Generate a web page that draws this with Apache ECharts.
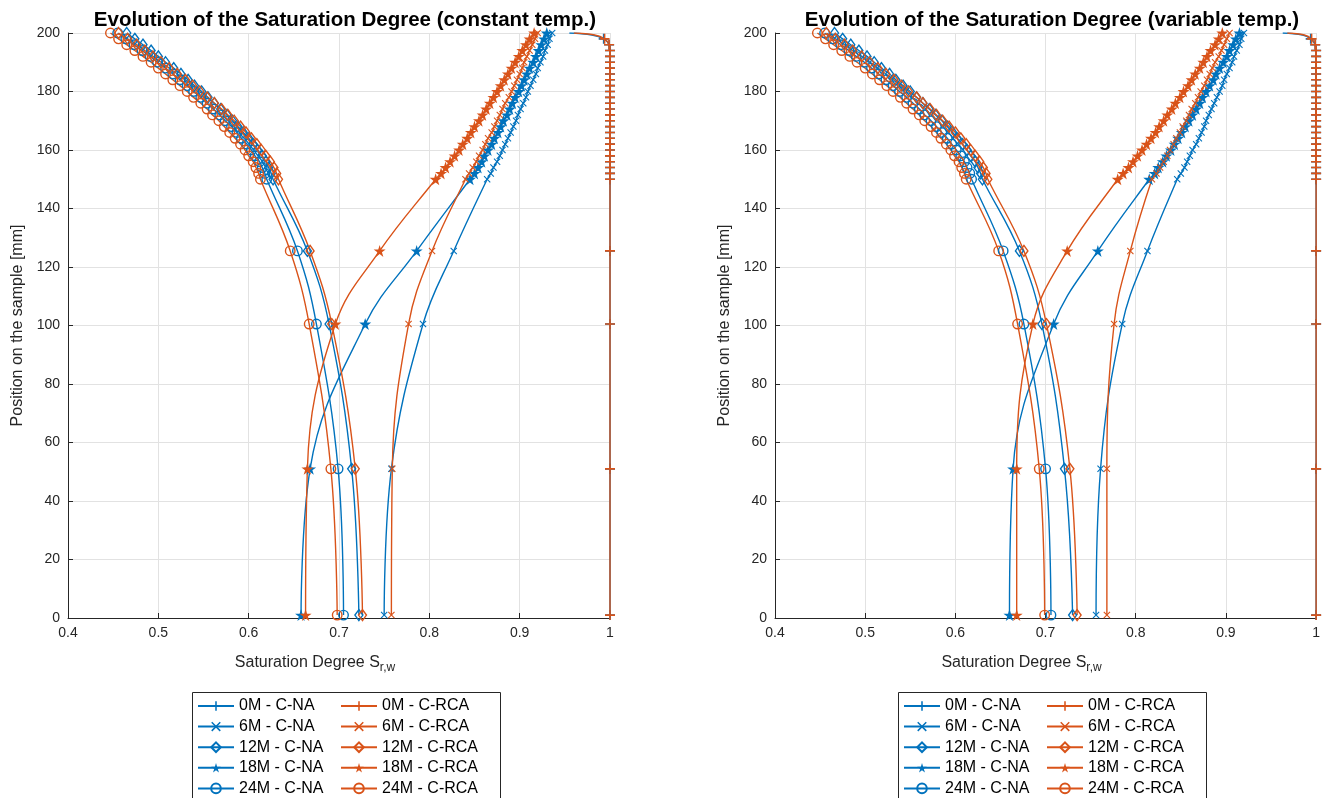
<!DOCTYPE html>
<html><head><meta charset="utf-8">
<script src="https://cdn.jsdelivr.net/npm/echarts@6/dist/echarts.min.js"></script>
<style>html,body{margin:0;padding:0;background:#fff}#c{width:1323px;height:798px}</style>
</head><body><div id="c"></div>
<script>
// ---------------- DATA ----------------
const TITLES = ['Evolution of the Saturation Degree (constant temp.)', 'Evolution of the Saturation Degree (variable temp.)'];
const AGES = ['0M', '6M', '12M', '18M', '24M'];
const MIXES = ['C-NA', 'C-RCA'];
// positions on the sample [mm] where values are given
const Y_POS = [1, 51, 100.5, 125.5, 150, 152, 154, 156, 158, 160, 162, 164, 166, 168, 170, 172, 174, 176, 178, 180, 182, 184, 186, 188, 190, 192, 194, 196, 198, 200];
const Y_0M = [1, 51, 100.5, 125.5, 150, 152, 154, 156, 158, 160, 162, 164, 166, 168, 170, 172, 174, 176, 178, 180, 182, 184, 186, 188, 190, 192, 194, 196, 198, 199.3, 200];

// constant temperature
const CT_NA_0M  = [1, 1, 1, 1, 1, 1, 1, 1, 1, 1, 1, 1, 1, 1, 1, 1, 1, 1, 1, 1, 1, 1, 1, 1, 1, 1, 1, 0.999, 0.993, 0.980, 0.955];
const CT_RCA_0M = [1, 1, 1, 1, 1, 1, 1, 1, 1, 1, 1, 1, 1, 1, 1, 1, 1, 1, 1, 1, 1, 1, 1, 1, 1, 1, 1, 0.999, 0.994, 0.983, 0.960];
const CT_NA_6M  = [0.750, 0.758, 0.793, 0.827, 0.864, 0.868, 0.871, 0.875, 0.878, 0.881, 0.884, 0.887, 0.890, 0.893, 0.896, 0.898, 0.901, 0.904, 0.907, 0.909, 0.912, 0.915, 0.918, 0.920, 0.923, 0.926, 0.928, 0.931, 0.933, 0.936];
const CT_RCA_6M = [0.758, 0.759, 0.777, 0.803, 0.840, 0.844, 0.848, 0.852, 0.855, 0.859, 0.862, 0.865, 0.869, 0.872, 0.875, 0.878, 0.881, 0.884, 0.888, 0.891, 0.894, 0.897, 0.900, 0.903, 0.905, 0.908, 0.911, 0.914, 0.917, 0.920];
const CT_NA_12M = [0.722, 0.714, 0.689, 0.665, 0.627, 0.625, 0.622, 0.619, 0.615, 0.610, 0.605, 0.600, 0.594, 0.588, 0.582, 0.576, 0.569, 0.562, 0.555, 0.548, 0.540, 0.533, 0.525, 0.517, 0.508, 0.500, 0.492, 0.483, 0.474, 0.465];
const CT_RCA_12M= [0.726, 0.718, 0.692, 0.668, 0.633, 0.631, 0.628, 0.624, 0.619, 0.614, 0.609, 0.603, 0.597, 0.591, 0.584, 0.577, 0.570, 0.562, 0.554, 0.546, 0.538, 0.530, 0.521, 0.512, 0.503, 0.494, 0.485, 0.476, 0.466, 0.456];
const CT_NA_18M = [0.658, 0.668, 0.729, 0.786, 0.845, 0.850, 0.854, 0.858, 0.861, 0.865, 0.869, 0.872, 0.876, 0.879, 0.882, 0.886, 0.889, 0.892, 0.895, 0.899, 0.902, 0.905, 0.908, 0.911, 0.915, 0.918, 0.921, 0.924, 0.927, 0.930];
const CT_RCA_18M= [0.663, 0.665, 0.696, 0.745, 0.807, 0.813, 0.818, 0.823, 0.828, 0.833, 0.837, 0.842, 0.846, 0.850, 0.855, 0.859, 0.863, 0.867, 0.871, 0.875, 0.879, 0.883, 0.887, 0.891, 0.895, 0.899, 0.903, 0.907, 0.911, 0.916];
const CT_NA_24M = [0.705, 0.699, 0.675, 0.654, 0.620, 0.618, 0.615, 0.612, 0.607, 0.603, 0.598, 0.592, 0.587, 0.581, 0.574, 0.568, 0.561, 0.554, 0.547, 0.539, 0.532, 0.524, 0.516, 0.508, 0.499, 0.491, 0.482, 0.473, 0.464, 0.455];
const CT_RCA_24M= [0.698, 0.691, 0.667, 0.646, 0.613, 0.611, 0.608, 0.605, 0.600, 0.596, 0.591, 0.585, 0.579, 0.573, 0.567, 0.560, 0.554, 0.547, 0.539, 0.532, 0.524, 0.516, 0.508, 0.500, 0.492, 0.483, 0.474, 0.465, 0.456, 0.447];

// variable temperature
const VT_NA_0M  = [1, 1, 1, 1, 1, 1, 1, 1, 1, 1, 1, 1, 1, 1, 1, 1, 1, 1, 1, 1, 1, 1, 1, 1, 1, 1, 1, 0.999, 0.994, 0.985, 0.963];
const VT_RCA_0M = [1, 1, 1, 1, 1, 1, 1, 1, 1, 1, 1, 1, 1, 1, 1, 1, 1, 1, 1, 1, 1, 1, 1, 1, 1, 1, 1, 0.999, 0.995, 0.987, 0.968];
const VT_NA_6M  = [0.756, 0.761, 0.785, 0.813, 0.846, 0.850, 0.854, 0.857, 0.860, 0.863, 0.867, 0.870, 0.873, 0.876, 0.878, 0.881, 0.884, 0.887, 0.890, 0.893, 0.896, 0.898, 0.901, 0.904, 0.907, 0.909, 0.912, 0.915, 0.917, 0.920];
const VT_RCA_6M = [0.768, 0.768, 0.776, 0.794, 0.818, 0.823, 0.827, 0.831, 0.835, 0.838, 0.842, 0.845, 0.849, 0.852, 0.856, 0.859, 0.862, 0.866, 0.869, 0.872, 0.876, 0.879, 0.882, 0.885, 0.888, 0.892, 0.895, 0.898, 0.901, 0.904];
const VT_NA_12M = [0.730, 0.721, 0.696, 0.671, 0.630, 0.628, 0.625, 0.622, 0.617, 0.613, 0.608, 0.602, 0.597, 0.591, 0.585, 0.578, 0.571, 0.564, 0.557, 0.550, 0.542, 0.534, 0.527, 0.518, 0.510, 0.502, 0.493, 0.484, 0.475, 0.466];
const VT_RCA_12M= [0.735, 0.727, 0.701, 0.676, 0.636, 0.634, 0.631, 0.627, 0.622, 0.617, 0.612, 0.606, 0.600, 0.593, 0.586, 0.579, 0.572, 0.564, 0.557, 0.548, 0.540, 0.532, 0.523, 0.514, 0.505, 0.496, 0.486, 0.477, 0.467, 0.457];
const VT_NA_18M = [0.660, 0.664, 0.709, 0.758, 0.815, 0.821, 0.825, 0.830, 0.834, 0.839, 0.843, 0.847, 0.851, 0.855, 0.859, 0.863, 0.867, 0.871, 0.874, 0.878, 0.882, 0.886, 0.889, 0.893, 0.897, 0.901, 0.904, 0.908, 0.911, 0.915];
const VT_RCA_18M= [0.668, 0.668, 0.686, 0.724, 0.780, 0.786, 0.792, 0.797, 0.802, 0.807, 0.812, 0.817, 0.822, 0.826, 0.831, 0.835, 0.840, 0.844, 0.849, 0.853, 0.858, 0.862, 0.866, 0.871, 0.875, 0.879, 0.883, 0.888, 0.892, 0.896];
const VT_NA_24M = [0.706, 0.700, 0.676, 0.653, 0.618, 0.616, 0.613, 0.610, 0.606, 0.601, 0.596, 0.591, 0.585, 0.579, 0.573, 0.566, 0.560, 0.553, 0.546, 0.538, 0.531, 0.523, 0.515, 0.507, 0.499, 0.490, 0.482, 0.473, 0.464, 0.455];
const VT_RCA_24M= [0.699, 0.693, 0.669, 0.648, 0.612, 0.610, 0.607, 0.604, 0.599, 0.595, 0.590, 0.584, 0.579, 0.573, 0.566, 0.560, 0.553, 0.546, 0.539, 0.531, 0.524, 0.516, 0.508, 0.500, 0.491, 0.483, 0.474, 0.465, 0.456, 0.447];

const X_TICKS = [0.4, 0.5, 0.6, 0.7, 0.8, 0.9, 1];
const Y_TICKS = [0, 20, 40, 60, 80, 100, 120, 140, 160, 180, 200];

// ---------------- STYLE ----------------
const FONT = '"Liberation Sans", Arial, Helvetica, sans-serif';
const COLORS = ['#0072BD', '#D95319'];
const TXT = '#262626';
const SYM_PLUS = 'path://M4.2,0H5.8V4.2H10V5.8H5.8V10H4.2V5.8H0V4.2H4.2Z';
const SYM_CROSS = 'path://M0,1.1L1.1,0L5,3.9L8.9,0L10,1.1L6.1,5L10,8.9L8.9,10L5,6.1L1.1,10L0,8.9L3.9,5Z';
const SYM_STAR = 'path://M5,0L6.18,3.62L10,3.62L6.91,5.86L8.09,9.51L5,7.27L1.91,9.51L3.09,5.86L0,3.62L3.82,3.62Z';
const MARKERS = [
  { symbol: SYM_PLUS, size: 10, hollow: false },
  { symbol: SYM_CROSS, size: 7, hollow: false },
  { symbol: 'diamond', size: [8, 11], hollow: true },
  { symbol: SYM_STAR, size: 12, hollow: false },
  { symbol: 'circle', size: 9.5, hollow: true }
];

const PLOTS = [
  { NA: [CT_NA_0M, CT_NA_6M, CT_NA_12M, CT_NA_18M, CT_NA_24M], RCA: [CT_RCA_0M, CT_RCA_6M, CT_RCA_12M, CT_RCA_18M, CT_RCA_24M] },
  { NA: [VT_NA_0M, VT_NA_6M, VT_NA_12M, VT_NA_18M, VT_NA_24M], RCA: [VT_RCA_0M, VT_RCA_6M, VT_RCA_12M, VT_RCA_18M, VT_RCA_24M] }
];
const GRID_LEFT = [68, 775];
const GRID_W = 542, GRID_TOP = 33, GRID_H = 585;

function makeSeries(g, mixIdx, ageIdx, xs) {
  const color = COLORS[mixIdx];
  const m = MARKERS[ageIdx];
  const ys = ageIdx === 0 ? Y_0M : Y_POS;
  return {
    type: 'line',
    name: AGES[ageIdx] + ' - ' + MIXES[mixIdx],
    xAxisIndex: g, yAxisIndex: g,
    data: xs.map((x, i) => {
      const it = { value: [x, ys[i]] };
      if (ageIdx === 0 && ys[i] > 198) it.symbol = 'none';
      return it;
    }),
    smooth: 0.4,
    symbol: m.symbol,
    symbolSize: m.size,
    showAllSymbol: true,
    lineStyle: { color: color, width: 1.4 },
    itemStyle: m.hollow ? { color: 'rgba(255,255,255,0)', borderColor: color, borderWidth: 1.4 } : { color: color, borderWidth: 0 },
    emphasis: { disabled: true },
    clip: true,
    animation: false
  };
}

const series = [];
PLOTS.forEach((p, g) => {
  [p.NA, p.RCA].forEach((arrs, mixIdx) => {
    arrs.forEach((xs, ageIdx) => series.push(makeSeries(g, mixIdx, ageIdx, xs)));
  });
});

const grids = GRID_LEFT.map(l => ({ left: l, top: GRID_TOP, width: GRID_W, height: GRID_H, containLabel: false }));
const axisLine = { show: true, onZero: false, lineStyle: { color: TXT, width: 1 } };
const axisTick = { show: true, inside: true, length: 5, lineStyle: { color: TXT, width: 1 } };
const splitLine = { show: true, lineStyle: { color: '#e2e2e2', width: 1 } };

const xAxes = GRID_LEFT.map((l, g) => ({
  type: 'value', gridIndex: g, min: X_TICKS[0], max: X_TICKS[X_TICKS.length - 1], interval: 0.1,
  axisLine, axisTick, splitLine,
  axisLabel: { color: TXT, fontSize: 14, fontFamily: FONT, margin: 8, formatter: v => String(+v.toFixed(1)) },
  name: '{a|Saturation Degree S}{b|r,w}', nameLocation: 'middle', nameGap: 34,
  nameTextStyle: {
    color: TXT, fontFamily: FONT, fontSize: 16, padding: [0, 48, 0, 0],
    rich: { a: { fontSize: 16, fontFamily: FONT, color: TXT }, b: { fontSize: 12, fontFamily: FONT, color: TXT, padding: [10, 0, 0, 0] } }
  }
}));
const yAxes = GRID_LEFT.map((l, g) => ({
  type: 'value', gridIndex: g, min: Y_TICKS[0], max: Y_TICKS[Y_TICKS.length - 1], interval: 20,
  axisLine, axisTick, splitLine,
  axisLabel: { color: TXT, fontSize: 14, fontFamily: FONT, margin: 8 },
  name: 'Position on the sample [mm]', nameLocation: 'middle', nameGap: 42,
  nameTextStyle: { color: TXT, fontFamily: FONT, fontSize: 16 }
}));

const titles = TITLES.map((t, g) => ({
  text: t, left: GRID_LEFT[g] + GRID_W / 2 + 1, top: 5, textAlign: 'center',
  textStyle: { fontFamily: FONT, fontSize: 20.5, fontWeight: 'bold', color: '#000' }
}));

const LEG_BOX = [{ x: 192, w: 308 }, { x: 898, w: 308 }];
const legends = [];
const graphics = [];
LEG_BOX.forEach((b, g) => {
  graphics.push({ type: 'rect', z: 1, shape: { x: b.x + 0.5, y: 692.5, width: b.w, height: 130 }, style: { fill: '#fff', stroke: TXT, lineWidth: 1 } });
  MIXES.forEach((mix, mixIdx) => {
    legends.push({
      orient: 'vertical', left: b.x + 5 + mixIdx * 143, top: 698, height: 115,
      data: AGES.map(a => a + ' - ' + mix),
      itemWidth: 36, itemHeight: 12, itemGap: 4.6, itemTextGap: 4, padding: 0,
      selectedMode: false, z: 10,
      textStyle: { fontFamily: FONT, fontSize: 16, color: '#000' }
    });
  });
});

const chart = echarts.init(document.getElementById('c'), null, { renderer: 'canvas' });
chart.setOption({
  animation: false,
  backgroundColor: '#fff',
  title: titles,
  grid: grids,
  xAxis: xAxes,
  yAxis: yAxes,
  legend: legends,
  graphic: graphics,
  series: series
});
</script></body></html>
